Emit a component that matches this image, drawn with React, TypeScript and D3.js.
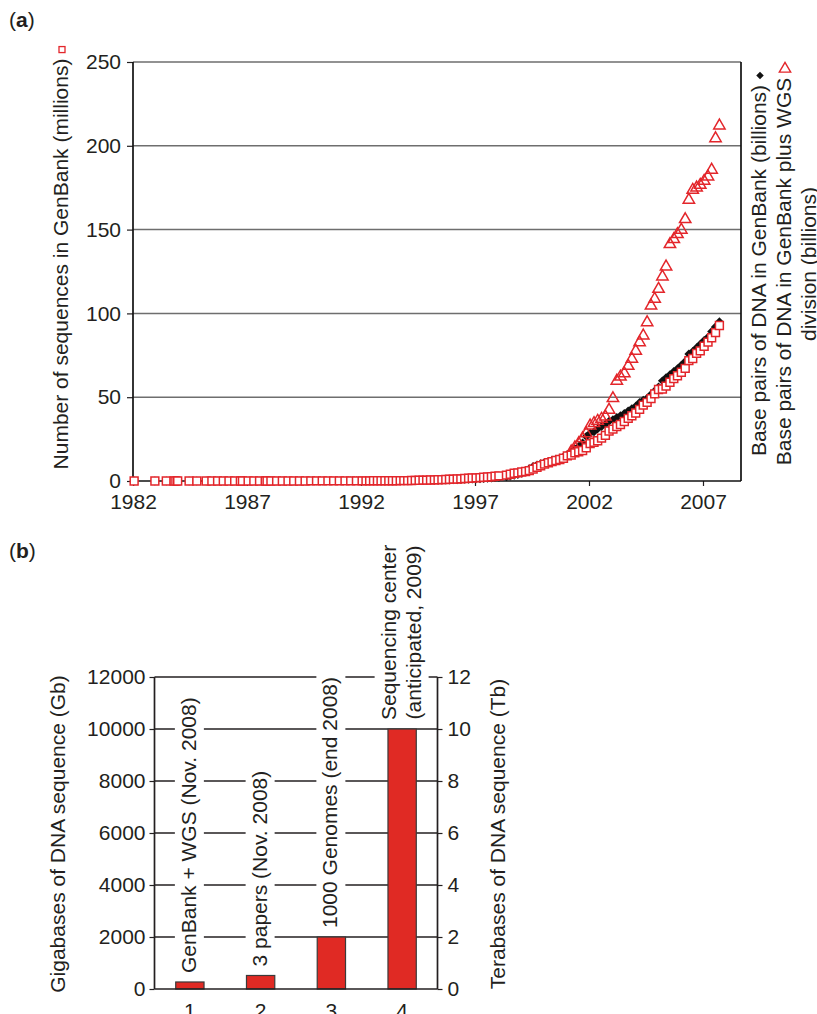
import React, { useEffect, useRef } from 'react';
import * as d3 from 'd3';

const FONT = '"Liberation Sans", Arial, Helvetica, sans-serif';
const FS = 21;
const INK = '#231f20';
const RED = '#e3262b';
const BAR_RED = '#e02a24';

// ---------------- Panel (a) data ----------------
// x position (axis years) of each GenBank release
const releaseYear = [
  1982.05, 1982.96, 1983.46, 1983.8, 1983.88, 1983.96, 1984.46, 1984.8, 1985.21, 1985.46,
  1985.71, 1985.96, 1986.21, 1986.46, 1986.71, 1986.8, 1987.05, 1987.3, 1987.55, 1987.8,
  1987.88, 1988.05, 1988.3, 1988.55, 1988.8, 1989.05, 1989.3, 1989.55, 1989.8, 1990.05,
  1990.3, 1990.55, 1990.8, 1991.05, 1991.3, 1991.55, 1991.8, 1992.05,
  1992.22, 1992.38, 1992.55, 1992.72, 1992.88, 1993.05,
  1993.22, 1993.38, 1993.55, 1993.72, 1993.88, 1994.05,
  1994.22, 1994.38, 1994.55, 1994.72, 1994.88, 1995.05,
  1995.22, 1995.38, 1995.55, 1995.72, 1995.88, 1996.05,
  1996.22, 1996.38, 1996.55, 1996.72, 1996.88, 1997.05,
  1997.22, 1997.38, 1997.55, 1997.72, 1997.88, 1998.05,
  1998.38, 1998.55, 1998.72, 1998.88, 1999.05,
  1999.22, 1999.38, 1999.55, 1999.72, 1999.88, 2000.05,
  2000.22, 2000.38, 2000.55, 2000.72, 2000.88, 2001.05,
  2001.22, 2001.38, 2001.55, 2001.72, 2001.88, 2002.05,
  2002.22, 2002.38, 2002.55, 2002.72, 2002.88, 2003.05,
  2003.22, 2003.38, 2003.55, 2003.72, 2003.88, 2004.05,
  2004.22, 2004.38, 2004.55, 2004.72, 2004.88, 2005.05,
  2005.22, 2005.38, 2005.55, 2005.72, 2005.88, 2006.05,
  2006.22, 2006.38, 2006.55, 2006.72, 2006.88, 2007.05,
  2007.22, 2007.38, 2007.55, 2007.72,
];

// Number of sequences in GenBank (millions) — red squares
const sequencesMillions = [
  0.0006, 0.0024, 0.0037, 0.0041, 0.0042, 0.0044, 0.005, 0.0057, 0.0066, 0.0074,
  0.0088, 0.01, 0.0109, 0.0125, 0.014, 0.0146, 0.0155, 0.017, 0.0182, 0.019,
  0.0206, 0.0212, 0.0225, 0.0263, 0.0288, 0.0312, 0.0334, 0.0351, 0.0395, 0.0411,
  0.0439, 0.0514, 0.0556, 0.059, 0.0651, 0.0713, 0.0786, 0.0971,
  0.107, 0.112, 0.12, 0.131, 0.143, 0.151,
  0.163, 0.17, 0.183, 0.197, 0.215, 0.238,
  0.269, 0.352, 0.425, 0.492, 0.556, 0.621,
  0.686, 0.744, 0.835, 0.921, 1.021, 1.115,
  1.193, 1.275, 1.491, 1.611, 1.766, 1.892,
  2.042, 2.209, 2.356, 2.532, 2.838, 3.044,
  3.525, 4.028, 4.61, 4.865, 5.355,
  5.691, 6.215, 7.077, 8.214, 9.103, 10.106,
  10.897, 11.546, 12.244, 12.814, 13.602, 14.976,
  15.465, 16.77, 17.471, 18.197, 19.808, 22.319,
  23.036, 24.028, 25.593, 27.214, 29.819, 30.968,
  32.549, 33.676, 35.532, 37.344, 38.941, 40.604,
  42.734, 45.236, 46.947, 49.152, 52.017, 54.585,
  54.89, 56.621, 58.89, 61.073, 62.765, 64.894,
  67.218, 71.803, 73.078, 76.146, 77.633, 80.388,
  82.854, 85.501, 88.555, 92.749,
];

// Base pairs of DNA in GenBank (billions) — black diamonds
const basePairsBillions = [
  0.0007, 0.0023, 0.003, 0.0033, 0.0034, 0.0037, 0.0042, 0.0052, 0.0059, 0.0068,
  0.0084, 0.0096, 0.011, 0.013, 0.0149, 0.0155, 0.0168, 0.0192, 0.0208, 0.022,
  0.0238, 0.0247, 0.0264, 0.0318, 0.0348, 0.0372, 0.0401, 0.0425, 0.0492, 0.0513,
  0.0552, 0.0659, 0.0719, 0.0773, 0.0839, 0.0922, 0.101, 0.1202,
  0.126, 0.13, 0.139, 0.147, 0.157, 0.164,
  0.173, 0.181, 0.191, 0.202, 0.217, 0.23,
  0.248, 0.286, 0.319, 0.354, 0.385, 0.426,
  0.464, 0.499, 0.552, 0.602, 0.652, 0.731,
  0.787, 0.843, 0.967, 1.053, 1.16, 1.258,
  1.372, 1.503, 1.622, 1.797, 2.009, 2.162,
  2.57, 2.975, 3.4, 3.841, 4.654,
  5.805, 7.376, 8.604, 9.627, 10.336, 11.101,
  11.72, 12.419, 12.974, 13.543, 14.397, 15.85,
  17.089, 19.073, 20.649, 22.617, 26.526, 28.508,
  29.358, 31.099, 32.528, 33.865, 35.6, 36.553,
  37.894, 38.989, 40.325, 41.808, 43.195, 44.576,
  46.85, 48.236, 49.399, 51.674, 53.655, 56.038,
  59.75, 61.582, 63.413, 65.369, 66.926, 69.019,
  71.292, 75.742, 77.249, 79.526, 81.563, 83.874,
  85.76, 89.172, 92.009, 95.034,
];

// Base pairs of DNA in GenBank plus WGS division (billions) — red triangles
const wgsYear = [
  2001.22, 2001.38, 2001.55, 2001.72, 2001.88, 2002.05, 2002.22, 2002.38, 2002.55, 2002.72,
  2002.88, 2003.05, 2003.22, 2003.38, 2003.55, 2003.72, 2003.88, 2004.05, 2004.22, 2004.38,
  2004.55, 2004.72, 2004.88, 2005.05, 2005.22, 2005.38, 2005.55, 2005.72, 2005.88, 2006.05,
  2006.22, 2006.38, 2006.55, 2006.72, 2006.88, 2007.05, 2007.22, 2007.38, 2007.55, 2007.72,
];
const basePairsWithWgsBillions = [
  18.5, 21.0, 23.4, 26.4, 29.4, 34.0, 35.4, 36.8, 38.0, 39.4,
  43.4, 50.3, 60.7, 63.2, 65.2, 69.6, 73.8, 78.6, 83.7, 87.7,
  95.6, 105.6, 109.6, 115.5, 122.9, 128.9, 142.2, 145.2, 148.2, 150.8,
  157.1, 168.7, 174.6, 176.0, 177.6, 180.0, 182.6, 186.6, 205.4, 213.0,
];

const xTicksA = [1982, 1987, 1992, 1997, 2002, 2007];
const yTicksA = [0, 50, 100, 150, 200, 250];
const titleLeftA = 'Number of sequences in GenBank (millions)';
const titleRightA = [
  'Base pairs of DNA in GenBank (billions)',
  'Base pairs of DNA in GenBank plus WGS',
  'division (billions)',
];

// ---------------- Panel (b) data ----------------
const barCategories = ['1', '2', '3', '4'];
const barGigabases = [270, 520, 2000, 10000];
const barLabelLines = [
  ['GenBank + WGS (Nov. 2008)'],
  ['3 papers (Nov. 2008)'],
  ['1000 Genomes (end 2008)'],
  ['Sequencing center', '(anticipated, 2009)'],
];
const yTicksBLeft = [0, 2000, 4000, 6000, 8000, 10000, 12000];
const yTicksBRight = [0, 2, 4, 6, 8, 10, 12];
const titleLeftB = 'Gigabases of DNA sequence (Gb)';
const titleRightB = 'Terabases of DNA sequence (Tb)';

export default function App() {
  const ref = useRef<SVGSVGElement>(null);

  useEffect(() => {
    const el = ref.current;
    if (!el) return;
    const svg = d3.select(el);
    svg.selectAll('*').remove();
    svg.append('rect').attr('width', 817).attr('height', 1014).attr('fill', '#fff');

    const styleAxis = (g: any) => {
      g.attr('font-family', FONT).attr('font-size', FS);
      g.selectAll('text').attr('fill', INK);
      g.selectAll('line').attr('stroke', INK).attr('stroke-width', 1.2);
      g.select('.domain').remove();
    };
    const addText = (parent: any, str: string) =>
      parent.append('text').attr('font-family', FONT).attr('font-size', FS).attr('fill', INK).text(str);

    // ---------- Panel (a) ----------
    const A = { l: 133, r: 741, t: 62, b: 481 };
    const xA = d3.scaleLinear().domain([1982, 2008.667]).range([A.l, A.r]);
    const yA = d3.scaleLinear().domain([0, 250]).range([A.b, A.t]);
    const ga = svg.append('g');

    ga.append('g')
      .selectAll('line')
      .data(yTicksA.slice(1))
      .join('line')
      .attr('x1', A.l).attr('x2', A.r)
      .attr('y1', (d: number) => yA(d)).attr('y2', (d: number) => yA(d))
      .attr('stroke', '#6e6e6e').attr('stroke-width', 1.5);

    ga.append('g').attr('transform', `translate(${A.l},0)`)
      .call(d3.axisLeft(yA).tickValues(yTicksA).tickSize(6).tickSizeOuter(0).tickPadding(6))
      .call(styleAxis);
    ga.append('g').attr('transform', `translate(0,${A.b})`)
      .call(d3.axisBottom(xA).tickValues(xTicksA).tickFormat(d3.format('d')).tickSize(5).tickSizeOuter(0).tickPadding(8))
      .call(styleAxis);

    const frameA = [
      [A.l, A.t, A.l, A.b],
      [A.l, A.b, A.r, A.b],
      [A.r, A.t, A.r, A.b],
    ];
    ga.append('g').selectAll('line').data(frameA).join('line')
      .attr('x1', (d: number[]) => d[0]).attr('y1', (d: number[]) => d[1])
      .attr('x2', (d: number[]) => d[2]).attr('y2', (d: number[]) => d[3])
      .attr('stroke', '#111').attr('stroke-width', 1.7);

    const pairs = (xs: number[], ys: number[]) =>
      d3.range(Math.min(xs.length, ys.length)).map((i) => [xs[i], ys[i]]);

    const diamondPath = d3.symbol(d3.symbolSquare, 40)()!;
    const triSize = 56;
    const triPath = d3.symbol(d3.symbolTriangle, triSize)()!;
    const triShift = Math.sqrt(triSize / (3 * Math.sqrt(3))) / 2;
    const squarePath = d3.symbol(d3.symbolSquare, 62)()!;

    ga.append('g').selectAll('path').data(pairs(releaseYear, basePairsBillions)).join('path')
      .attr('d', diamondPath)
      .attr('transform', (d: number[]) => `translate(${xA(d[0])},${yA(d[1])}) rotate(45)`)
      .attr('fill', '#111');

    ga.append('g').selectAll('path').data(pairs(wgsYear, basePairsWithWgsBillions)).join('path')
      .attr('d', triPath)
      .attr('transform', (d: number[]) => `translate(${xA(d[0])},${yA(d[1]) + triShift})`)
      .attr('fill', 'none').attr('stroke', RED).attr('stroke-width', 1.5);

    ga.append('g').selectAll('path').data(pairs(releaseYear, sequencesMillions)).join('path')
      .attr('d', squarePath)
      .attr('transform', (d: number[]) => `translate(${xA(d[0])},${yA(d[1])})`)
      .attr('fill', '#fff').attr('stroke', RED).attr('stroke-width', 1.5);

    // left title with legend square
    {
      const t = addText(svg, titleLeftA);
      const len = (t.node() as SVGTextElement).getComputedTextLength();
      const gap = 6, m = 6;
      const start = 258 + (len + gap + m) / 2;
      t.attr('transform', `translate(68,${start}) rotate(-90)`);
      svg.append('rect')
        .attr('x', 62 - m / 2).attr('y', start - len - gap - m)
        .attr('width', m).attr('height', m)
        .attr('fill', '#fff').attr('stroke', RED).attr('stroke-width', 1.3);
    }
    // right title with legend markers
    {
      const baseX = [766, 791, 816];
      titleRightA.forEach((line, i) => {
        const t = addText(svg, line);
        const len = (t.node() as SVGTextElement).getComputedTextLength();
        const hasMarker = i < 2;
        const gap = 6, m = i === 0 ? 7 : 9;
        const total = len + (hasMarker ? gap + m : 0);
        const start = 264 + total / 2;
        t.attr('transform', `translate(${baseX[i]},${start}) rotate(-90)`);
        if (i === 0) {
          svg.append('path').attr('d', d3.symbol(d3.symbolSquare, 28)()!)
            .attr('transform', `translate(${baseX[i] - 6},${start - len - gap - m / 2}) rotate(45)`)
            .attr('fill', '#111');
        } else if (i === 1) {
          svg.append('path').attr('d', triPath)
            .attr('transform', `translate(${baseX[i] - 6},${start - len - gap - m / 2 + triShift})`)
            .attr('fill', 'none').attr('stroke', RED).attr('stroke-width', 1.4);
        }
      });
    }

    // panel letters
    const letter = (y: number, ch: string) => {
      const t = svg.append('text').attr('x', 9).attr('y', y)
        .attr('font-family', FONT).attr('font-size', FS).attr('fill', INK);
      t.append('tspan').text('(');
      t.append('tspan').attr('font-weight', 'bold').text(ch);
      t.append('tspan').text(')');
    };
    letter(27, 'a');
    letter(558, 'b');

    // ---------- Panel (b) ----------
    const B = { l: 154.5, r: 437.5, t: 677, b: 989 };
    const xB = d3.scaleBand().domain(barCategories).range([B.l, B.r]).paddingInner(0.6).paddingOuter(0.3);
    const yB = d3.scaleLinear().domain([0, 12000]).range([B.b, B.t]);
    const yBR = d3.scaleLinear().domain([0, 12]).range([B.b, B.t]);
    const gb = svg.append('g');

    gb.append('g').selectAll('line').data(yTicksBLeft.slice(1)).join('line')
      .attr('x1', B.l).attr('x2', B.r)
      .attr('y1', (d: number) => yB(d)).attr('y2', (d: number) => yB(d))
      .attr('stroke', INK).attr('stroke-width', (d: number) => (d === 12000 ? 1.7 : 1.3));

    // data labels with white boxes
    barCategories.forEach((c, i) => {
      const lines = barLabelLines[i];
      const cx = (xB(c) as number) + xB.bandwidth() / 2;
      const top = yB(barGigabases[i]);
      const g = gb.append('g');
      const lineH = 25;
      const texts = lines.map((ln) => addText(g, ln).attr('text-anchor', 'middle'));
      const lens = texts.map((t: any) => (t.node() as SVGTextElement).getComputedTextLength());
      const maxLen = Math.max(...lens);
      const baselines = lines.map((_, k) => 6 + (k - (lines.length - 1) / 2) * lineH);
      texts.forEach((t: any, k: number) => t.attr('x', maxLen / 2).attr('y', baselines[k]));
      g.insert('rect', 'text')
        .attr('x', -5).attr('y', baselines[0] - 21)
        .attr('width', maxLen + 10).attr('height', baselines[baselines.length - 1] - baselines[0] + 29)
        .attr('fill', '#fff');
      g.attr('transform', `translate(${cx},${top - 9}) rotate(-90)`);
    });

    gb.append('g').selectAll('rect').data(barCategories).join('rect')
      .attr('x', (d: string) => xB(d) as number)
      .attr('width', xB.bandwidth())
      .attr('y', (_: string, i: number) => yB(barGigabases[i]))
      .attr('height', (_: string, i: number) => B.b - yB(barGigabases[i]))
      .attr('fill', BAR_RED).attr('stroke', '#3a3a3a').attr('stroke-width', 1.2);

    gb.append('g').attr('transform', `translate(${B.l},0)`)
      .call(d3.axisLeft(yB).tickValues(yTicksBLeft).tickFormat(d3.format('d')).tickSize(5).tickSizeOuter(0).tickPadding(4))
      .call(styleAxis);
    gb.append('g').attr('transform', `translate(${B.r},0)`)
      .call(d3.axisRight(yBR).tickValues(yTicksBRight).tickFormat(d3.format('d')).tickSize(5).tickSizeOuter(0).tickPadding(5))
      .call(styleAxis);
    gb.append('g').attr('transform', `translate(0,${B.b})`)
      .call(d3.axisBottom(xB).tickSize(0).tickPadding(14))
      .call(styleAxis);

    const frameB = [
      [B.l, B.t, B.l, B.b],
      [B.l, B.b, B.r, B.b],
      [B.r, B.t, B.r, B.b],
    ];
    gb.append('g').selectAll('line').data(frameB).join('line')
      .attr('x1', (d: number[]) => d[0]).attr('y1', (d: number[]) => d[1])
      .attr('x2', (d: number[]) => d[2]).attr('y2', (d: number[]) => d[3])
      .attr('stroke', INK).attr('stroke-width', 1.7);

    {
      const t1 = addText(svg, titleLeftB).attr('text-anchor', 'middle');
      t1.attr('transform', `translate(65,834) rotate(-90)`);
      const t2 = addText(svg, titleRightB).attr('text-anchor', 'middle');
      t2.attr('transform', `translate(505,834) rotate(-90)`);
    }
  }, []);

  return (
    <svg
      ref={ref}
      width={817}
      height={1014}
      style={{ position: 'absolute', left: 0, top: 0, display: 'block' }}
    />
  );
}
